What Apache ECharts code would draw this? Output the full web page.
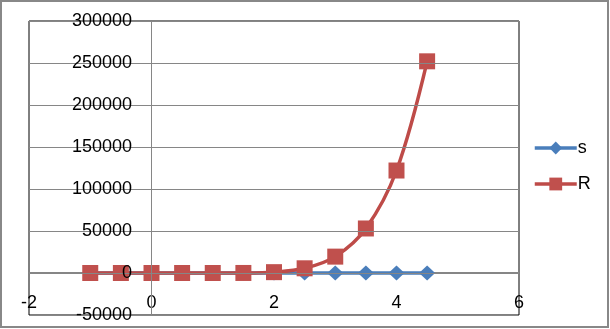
<!DOCTYPE html>
<html>
<head>
<meta charset="utf-8">
<script src="https://cdn.jsdelivr.net/npm/echarts@6/dist/echarts.min.js"></script>
<style>html,body{margin:0;padding:0;background:#fff;}#c{width:610px;height:329px;}</style>
</head>
<body>
<div id="c"></div>
<script>
var xValues = [-1, -0.5, 0, 0.5, 1, 1.5, 2, 2.5, 3, 3.5, 4, 4.5];
var sValues = [0, 0, 0, 0, 0, 0, 0, 0, 0, 0, 0, 0];
var rValues = [0, 0, 0, 0, 0, 50, 1000, 5600, 19500, 53000, 122000, 252000];
var seriesNames = ['s', 'R'];
var xMin = -2, xMax = 6, xStep = 2;
var yMin = -50000, yMax = 300000, yStep = 50000;

function pairs(xs, ys) { return xs.map(function (x, i) { return [x, ys[i]]; }); }

var font = 'Liberation Sans';
var chart = echarts.init(document.getElementById('c'), null, {renderer: 'canvas'});
chart.setOption({
  animation: false,
  backgroundColor: '#ffffff',
  graphic: [{
    type: 'rect', shape: {x: 1, y: 1, width: 607, height: 326},
    style: {fill: 'none', stroke: '#888888', lineWidth: 2}, z: 100
  }],
  grid: {left: 29, top: 21, right: 91, bottom: 14, containLabel: false, outerBoundsMode: 'none',
    show: true, borderColor: '#000000', borderWidth: 1, backgroundColor: 'transparent'},
  legend: {
    orient: 'vertical', left: 528, top: 134, itemWidth: 42, itemHeight: 16, itemGap: 18,
    lineStyle: {width: 3.5},
    textStyle: {fontFamily: font, fontSize: 18, color: '#000', padding: [0, 0, 0, -4]},
    data: seriesNames
  },
  xAxis: {
    type: 'value', min: xMin, max: xMax, interval: xStep, position: 'bottom', offset: -43,
    axisLine: {onZero: false, lineStyle: {color: '#868686', width: 1}},
    axisTick: {show: false},
    axisLabel: {margin: 22, fontFamily: font, fontSize: 18, color: '#000', showMinLabel: true, showMaxLabel: true,
      formatter: function (v) { return String(v); }},
    splitLine: {show: false}
  },
  yAxis: {
    type: 'value', min: yMin, max: yMax, interval: yStep, position: 'left', offset: -123, z: 10,
    axisLine: {show: false, onZero: false},
    axisTick: {show: false},
    axisLabel: {margin: 20, fontFamily: font, fontSize: 18, color: '#000', showMinLabel: true, showMaxLabel: true,
      formatter: function (v) { return String(v); }},
    splitLine: {show: true, lineStyle: {color: '#868686', width: 1}}
  },
  series: [
    {
      name: seriesNames[0], type: 'line', data: pairs(xValues, sValues), smooth: 0.35,
      symbol: 'diamond', symbolSize: [16, 15],
      lineStyle: {color: '#4A7EBB', width: 3.5}, itemStyle: {color: '#4A7EBB'}, z: 2,
      markLine: {
        silent: true, symbol: 'none', label: {show: false}, animation: false,
        lineStyle: {color: '#868686', width: 1, type: 'solid'},
        data: [{xAxis: 0}]
      }
    },
    {
      name: seriesNames[1], type: 'line', data: pairs(xValues, rValues), smooth: 0.35,
      symbol: 'rect', symbolSize: 16,
      lineStyle: {color: '#BE4B48', width: 3.5}, itemStyle: {color: '#C0504D'}, z: 3
    }
  ]
});
</script>
</body>
</html>
